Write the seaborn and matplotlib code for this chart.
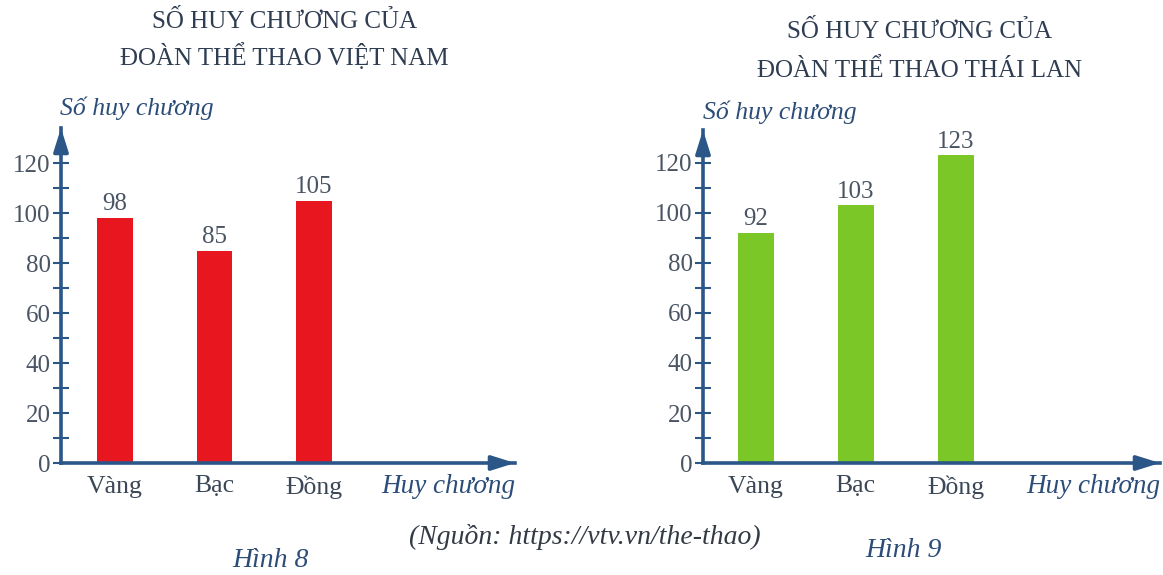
import matplotlib
matplotlib.use("Agg")
import matplotlib.pyplot as plt
import seaborn as sns

# ---- data ----
categories = ["Vàng", "Bạc", "Đồng"]
vn_medals = [98, 85, 105]
th_medals = [92, 103, 123]
title_vn = ["SỐ HUY CHƯƠNG CỦA", "ĐOÀN THỂ THAO VIỆT NAM"]
title_th = ["SỐ HUY CHƯƠNG CỦA", "ĐOÀN THỂ THAO THÁI LAN"]
y_label = "Số huy chương"
x_label = "Huy chương"
caption_vn = "Hình 8"
caption_th = "Hình 9"
source = "(Nguồn: https://vtv.vn/the-thao)"
y_major = [0, 20, 40, 60, 80, 100, 120]
y_minor = [10, 30, 50, 70, 90, 110]

sns.set_theme(style="white")
plt.rcParams["font.family"] = ["Liberation Serif", "DejaVu Serif"]

W, H = 1163, 575
fig = plt.figure(figsize=(W / 100, H / 100), dpi=100)
fig.patch.set_facecolor("white")

AXC = "#2b5688"
TXT = "#4a5563"
TITLE_C = "#2f3d52"
LABEL_C = "#2c4d78"
FS = 18


def ftext(x, y, s, **kw):
    fig.text(x / W, 1 - y / H, s, **kw)


def panel(rect, values, color, ylim_top, xlim):
    ax = fig.add_axes(rect)
    sns.barplot(x=categories, y=values, ax=ax, color=color, width=0.36,
                saturation=1, edgecolor="none")
    ax.set_xlim(*xlim)
    ax.set_ylim(0, ylim_top)
    ax.set_facecolor("none")
    for s in ["top", "right"]:
        ax.spines[s].set_visible(False)
    for s in ["left", "bottom"]:
        ax.spines[s].set_color(AXC)
        ax.spines[s].set_linewidth(2.6)
    ax.set_yticks(y_major)
    ax.set_yticks(y_minor, minor=True)
    ax.set_yticklabels([str(v) for v in y_major])
    ax.tick_params(axis="y", which="both", direction="inout", length=11,
                   width=1.5, color=AXC, labelsize=FS, labelcolor=TXT, pad=2,
                   left=True)
    ax.tick_params(axis="x", length=0, labelsize=18.5, labelcolor="#3b4756",
                   pad=9)
    ax.set_xlabel("")
    ax.set_ylabel("")
    for c in ax.containers:
        ax.bar_label(c, padding=2, fontsize=FS, color=TXT)
    # arrow heads
    ax.annotate("", xy=(0, 1.0), xytext=(0, 0.94), xycoords="axes fraction",
                arrowprops=dict(arrowstyle="-|>,head_length=0.7,head_width=0.22",
                                color=AXC, lw=2.6, shrinkA=0, shrinkB=0,
                                mutation_scale=20))
    ax.annotate("", xy=(1.0, 0), xytext=(0.95, 0), xycoords="axes fraction",
                arrowprops=dict(arrowstyle="-|>,head_length=0.7,head_width=0.22",
                                color=AXC, lw=2.6, shrinkA=0, shrinkB=0,
                                mutation_scale=20))
    return ax


ax1 = panel([61 / W, 1 - 463 / H, 454 / W, 335 / H], vn_medals, "#e8161e",
            134, (-0.543, 4.02))
ax2 = panel([703 / W, 1 - 463 / H, 457 / W, 333 / H], th_medals, "#7cc728",
            133.2, (-0.525, 4.045))

# titles
ftext(284, 28, title_vn[0], ha="center", va="baseline", fontsize=18,
      color=TITLE_C)
ftext(284, 65, title_vn[1], ha="center", va="baseline", fontsize=18,
      color=TITLE_C)
ftext(920, 38, title_th[0], ha="center", va="baseline", fontsize=18,
      color=TITLE_C)
ftext(920, 77, title_th[1], ha="center", va="baseline", fontsize=18,
      color=TITLE_C)

# y labels
ftext(60, 115, y_label, ha="left", va="baseline", fontsize=18.5,
      style="italic", color=LABEL_C)
ftext(703, 119, y_label, ha="left", va="baseline", fontsize=18.5,
      style="italic", color=LABEL_C)

# x labels
ftext(515, 493, x_label, ha="right", va="baseline", fontsize=19.5,
      style="italic", color=LABEL_C)
ftext(1160, 493, x_label, ha="right", va="baseline", fontsize=19.5,
      style="italic", color=LABEL_C)

# source and captions
ftext(585, 537, source, ha="center", va="center", fontsize=20,
      style="italic", color="#333a44")
ftext(270, 567, caption_vn, ha="center", va="baseline", fontsize=20,
      style="italic", color=LABEL_C)
ftext(903, 557, caption_th, ha="center", va="baseline", fontsize=20,
      style="italic", color=LABEL_C)

fig.savefig("out.png", dpi=100, facecolor="white")
